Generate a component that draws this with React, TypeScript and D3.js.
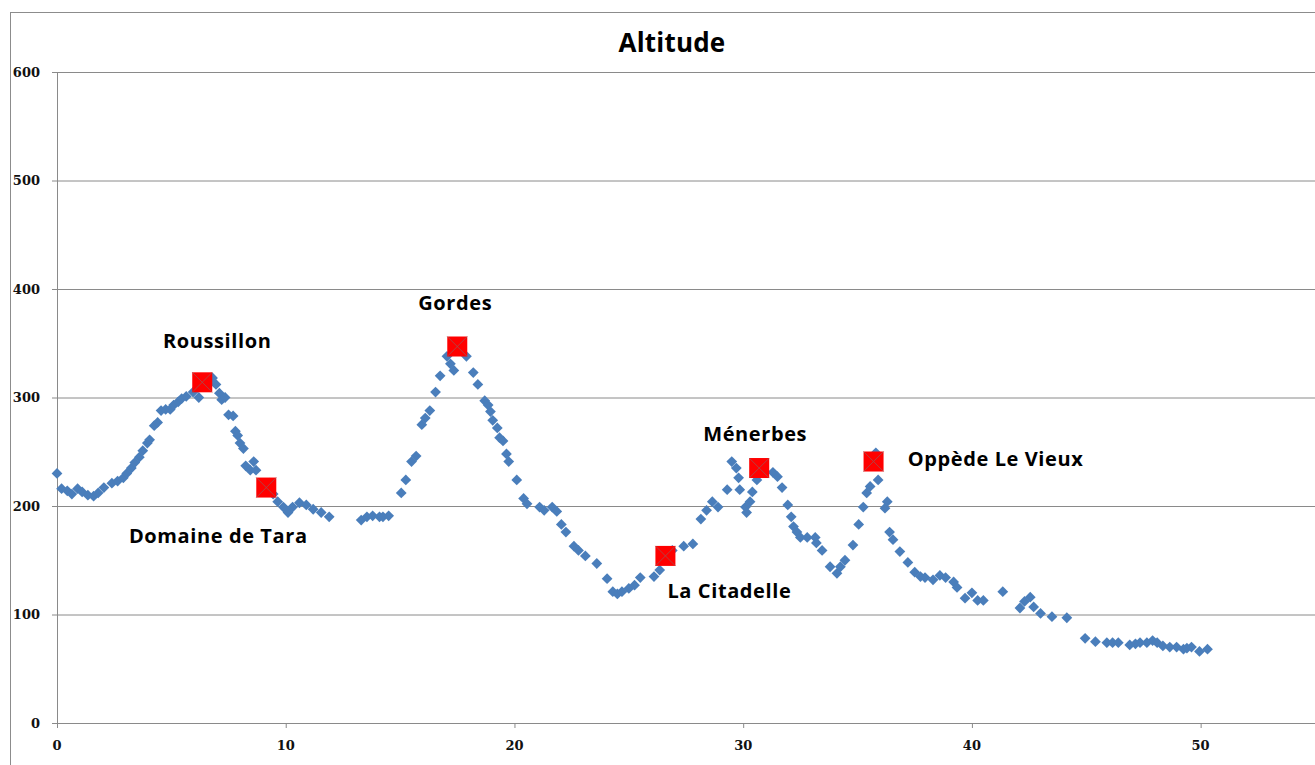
import React from "react";
import * as d3 from "d3";

// Distance (km) along the route
const distance: number[] = [
  0, 0.2, 0.45, 0.65, 0.9, 1.1, 1.35, 1.6, 1.8, 2.05, 2.4, 2.65, 2.9, 3.05, 3.25, 3.4, 3.6, 3.75, 3.95, 4.05,
  4.25, 4.4, 4.55, 4.75, 4.95, 5.1, 5.3, 5.45, 5.65, 5.95, 6.2, 6.8, 6.95, 7.1, 7.2, 7.35, 7.5, 7.7, 7.8, 7.9,
  8.0, 8.15, 8.25, 8.45, 8.6, 8.7, 9.3, 9.45, 9.65, 9.9, 10.1, 10.3, 10.6, 10.9, 11.2, 11.55, 11.9,
  13.3, 13.55, 13.8, 14.1, 14.25, 14.5, 15.05, 15.25, 15.5, 15.7, 15.95, 16.1, 16.3, 16.55, 16.75, 17.05, 17.2, 17.35,
  17.9, 18.2, 18.4, 18.7, 18.85, 18.95, 19.05, 19.25, 19.35, 19.5, 19.65, 19.75, 20.1, 20.4, 20.55, 21.1, 21.3, 21.65,
  21.85, 22.05, 22.25, 22.6, 22.8, 23.1, 23.6, 24.05, 24.3, 24.5, 24.7, 25.0, 25.25, 25.5, 26.1, 26.35, 26.9, 27.4,
  27.8, 28.15, 28.4, 28.65, 28.9, 29.3, 29.5, 29.7, 29.8, 29.85, 30.1, 30.15, 30.3, 30.4, 30.6, 31.3, 31.5, 31.7,
  31.95, 32.1, 32.2, 32.35, 32.5, 32.8, 33.15, 33.2, 33.45, 33.8, 34.1, 34.25, 34.45, 34.8, 35.05, 35.25, 35.4, 35.55,
  35.8, 35.9, 36.2, 36.3, 36.4, 36.55, 36.85, 37.2, 37.5, 37.75, 37.95, 38.3, 38.6, 38.85, 39.2, 39.35, 39.7, 40.0,
  40.25, 40.5, 41.35, 42.1, 42.3, 42.55, 42.7, 43.0, 43.5, 44.15, 44.95, 45.4, 45.9, 46.15, 46.4, 46.9, 47.15, 47.35,
  47.65, 47.9, 48.1, 48.35, 48.65, 48.95, 49.25, 49.4, 49.6, 49.95, 50.3,
];

// Altitude (m) at each distance
const altitude: number[] = [
  230, 216, 214, 211, 216, 213, 210, 209, 212, 217, 221, 223, 226, 230, 235, 240, 245, 251, 258, 261,
  274, 277, 288, 289, 289, 293, 296, 299, 301, 305, 300, 318, 312, 304, 298, 300, 284, 283, 269, 265,
  258, 253, 237, 233, 241, 233, 221, 211, 204, 199, 194, 199, 203, 201, 197, 194, 190,
  187, 190, 191, 190, 190, 191, 212, 224, 241, 246, 275, 281, 288, 305, 320, 338, 331, 325,
  338, 323, 312, 297, 293, 287, 279, 272, 263, 260, 248, 241, 224, 207, 202, 199, 196, 199,
  195, 183, 176, 163, 159, 154, 147, 133, 121, 119, 121, 124, 127, 134, 135, 141, 159, 163,
  165, 188, 196, 204, 199, 215, 241, 235, 226, 215, 199, 194, 204, 213, 224, 231, 227, 217,
  201, 190, 181, 176, 171, 171, 171, 166, 159, 144, 138, 144, 150, 164, 183, 199, 212, 218,
  249, 224, 198, 204, 176, 169, 158, 148, 139, 135, 134, 132, 136, 134, 130, 125, 115, 120,
  113, 113, 121, 106, 112, 116, 107, 101, 98, 97, 78, 75, 74, 74, 74, 72, 73, 74,
  74, 76, 74, 71, 70, 70, 68, 69, 70, 66, 68,
];

// Named places along the route
const placeNames: string[] = ["Roussillon", "Domaine de Tara", "Gordes", "La Citadelle", "Ménerbes", "Oppède Le Vieux"];
const placeDistance: number[] = [6.35, 9.15, 17.5, 26.6, 30.7, 35.7];
const placeAltitude: number[] = [314, 217, 347, 154, 235, 241];

const xTicks: number[] = [0, 10, 20, 30, 40, 50];
const yTicks: number[] = [0, 100, 200, 300, 400, 500, 600];

const W = 1315;
const H = 765;
const left = 57;
const right = 1315;
const top = 72;
const bottom = 723;

// Label baseline placement relative to each place marker (dx, dy)
const labelOffsets: [number, number][] = [
  [15, -34],
  [-48, 55],
  [-2, -37],
  [64, 42],
  [-4, -27],
  [122, 4],
];

export default function App() {
  const x = d3.scaleLinear().domain([0, 55]).range([left, right]);
  const y = d3.scaleLinear().domain([0, 600]).range([bottom, top]);
  const diamond = d3.symbol().type(d3.symbolDiamond2).size(74)();
  const labelFont = "'Open Sans', 'Noto Sans', sans-serif";
  const axisFont = "'DejaVu Serif', 'Liberation Serif', serif";

  return (
    <svg
      width={W}
      height={H}
      style={{ position: "absolute", left: 0, top: 0, background: "#fff" }}
    >
      {/* chart frame */}
      <rect x={10.5} y={12.5} width={1400} height={800} fill="none" stroke="#8c8c8c" strokeWidth={1} />

      <text
        x={672}
        y={52}
        textAnchor="middle"
        fontFamily={labelFont}
        fontWeight="bold"
        fontSize={26}
        letterSpacing={0.2}
        fill="#000"
      >
        Altitude
      </text>

      {/* horizontal gridlines */}
      {yTicks.map((t) => (
        <g key={"y" + t}>
          <line x1={left} x2={right} y1={y(t) + 0.5} y2={y(t) + 0.5} stroke="#8a8a8a" strokeWidth={1} />
          <line x1={left - 5} x2={left} y1={y(t) + 0.5} y2={y(t) + 0.5} stroke="#8a8a8a" strokeWidth={1} />
          <text
            x={40}
            y={y(t) + 4.5}
            textAnchor="end"
            fontFamily={axisFont}
            fontWeight="bold"
            fontSize={13}
            fill="#111"
          >
            {t}
          </text>
        </g>
      ))}

      {/* y axis */}
      <line x1={left + 0.5} x2={left + 0.5} y1={top} y2={bottom + 1} stroke="#8a8a8a" strokeWidth={1} />

      {/* x ticks */}
      {xTicks.map((t) => (
        <g key={"x" + t}>
          <line x1={x(t) + 0.5} x2={x(t) + 0.5} y1={bottom} y2={bottom + 5} stroke="#8a8a8a" strokeWidth={1} />
          <text
            x={x(t)}
            y={750}
            textAnchor="middle"
            fontFamily={axisFont}
            fontWeight="bold"
            fontSize={13}
            fill="#111"
          >
            {t}
          </text>
        </g>
      ))}

      {/* altitude profile */}
      {distance.map((d, i) => (
        <path
          key={"p" + i}
          d={diamond!}
          transform={`translate(${x(d)},${y(altitude[i])})`}
          fill="#4a7ebb"
        />
      ))}

      {/* place markers */}
      {placeNames.map((name, i) => {
        const cx = x(placeDistance[i]);
        const cy = y(placeAltitude[i]);
        const s = 10;
        return (
          <g key={name}>
            <rect x={cx - s} y={cy - s} width={2 * s} height={2 * s} fill="#ff0000" />
            <line x1={cx - s} y1={cy - s} x2={cx + s} y2={cy + s} stroke="#a05050" strokeWidth={0.8} />
            <line x1={cx - s} y1={cy + s} x2={cx + s} y2={cy - s} stroke="#a05050" strokeWidth={0.8} />
            <text
              x={cx + labelOffsets[i][0]}
              y={cy + labelOffsets[i][1]}
              textAnchor="middle"
              fontFamily={labelFont}
              fontWeight="bold"
              fontSize={20}
              letterSpacing={0.6}
              fill="#000"
            >
              {name}
            </text>
          </g>
        );
      })}
    </svg>
  );
}
